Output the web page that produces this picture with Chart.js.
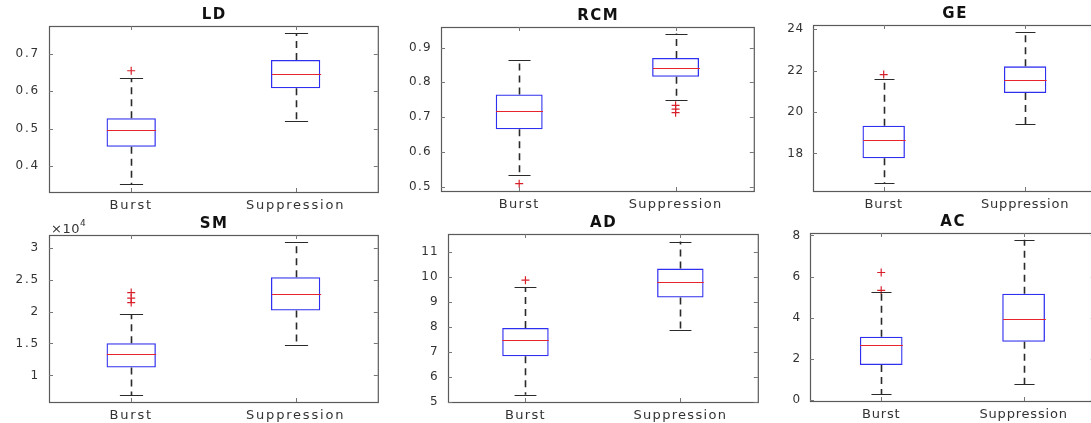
<!DOCTYPE html>
<html>
<head>
<meta charset="utf-8">
<script src="https://cdn.jsdelivr.net/npm/chart.js@4"></script>
<style>
html,body{margin:0;padding:0;background:#fff;width:1091px;height:423px;overflow:hidden;position:relative}
canvas{position:absolute}
</style>
</head>
<body>
<script>
// ---------- DATA ----------
const categories = ['Burst', 'Suppression'];
const panelTitles = ['LD', 'RCM', 'GE', 'SM', 'AD', 'AC'];
// each box: [lower whisker, Q1, median, Q3, upper whisker]
const ldBurst = [0.351, 0.451, 0.497, 0.528, 0.635];
const ldSupp = [0.521, 0.608, 0.646, 0.684, 0.755];
const ldOutBurst = [0.655];
const ldOutSupp = [];
const ldTicks = [0.4, 0.5, 0.6, 0.7];

const rcmBurst = [0.533, 0.665, 0.717, 0.765, 0.864];
const rcmSupp = [0.749, 0.816, 0.841, 0.870, 0.940];
const rcmOutBurst = [0.509];
const rcmOutSupp = [0.734, 0.723, 0.713];
const rcmTicks = [0.5, 0.6, 0.7, 0.8, 0.9];

const geBurst = [16.55, 17.76, 18.63, 19.34, 21.58];
const geSupp = [19.42, 20.92, 21.55, 22.21, 23.85];
const geOutBurst = [21.81];
const geOutSupp = [];
const geTicks = [18, 20, 22, 24];

const smBurst = [6940, 11250, 13400, 15050, 19590];
const smSupp = [14840, 20160, 22720, 25370, 30840];
const smOutBurst = [22970, 22090, 21400];
const smOutSupp = [];
const smTicks = [10000, 15000, 20000, 25000, 30000];

const adBurst = [5.29, 6.82, 7.49, 7.95, 9.58];
const adSupp = [7.88, 9.17, 9.77, 10.32, 11.40];
const adOutBurst = [9.86];
const adOutSupp = [];
const adTicks = [5, 6, 7, 8, 9, 10, 11];

const acBurst = [0.28, 1.70, 2.65, 3.08, 5.23];
const acSupp = [0.76, 2.83, 3.96, 5.17, 7.79];
const acOutBurst = [6.20, 5.33];
const acOutSupp = [];
const acTicks = [0, 2, 4, 6, 8];

// ---------- LAYOUT ----------
const panels = [
  {title: panelTitles[0], b: ldBurst, s: ldSupp, ob: ldOutBurst, os: ldOutSupp, ticks: ldTicks, min: 0.33, max: 0.775, rect: [49, 26, 381, 192], ls: 1.8},
  {title: panelTitles[1], b: rcmBurst, s: rcmSupp, ob: rcmOutBurst, os: rcmOutSupp, ticks: rcmTicks, min: 0.488, max: 0.959, rect: [441, 27, 757, 191], ls: 1.3},
  {title: panelTitles[2], b: geBurst, s: geSupp, ob: geOutBurst, os: geOutSupp, ticks: geTicks, min: 16.18, max: 24.21, rect: [813, 25, 1099, 191], ls: 0.8},
  {title: panelTitles[3], b: smBurst, s: smSupp, ob: smOutBurst, os: smOutSupp, ticks: smTicks, min: 5840, max: 31980, rect: [49, 235, 381, 402], ls: 1.8, scale: 1e4},
  {title: panelTitles[4], b: adBurst, s: adSupp, ob: adOutBurst, os: adOutSupp, ticks: adTicks, min: 5, max: 11.7, rect: [448, 234, 761, 402], ls: 1.3},
  {title: panelTitles[5], b: acBurst, s: acSupp, ob: acOutBurst, os: acOutSupp, ticks: acTicks, min: -0.05, max: 8.12, rect: [810, 233, 1098, 401], ls: 0.8}
];

const YW = 45, XH = 28, PT = 24, PR = 2;
const FONT = "'DejaVu Sans', 'Liberation Sans', Arial, sans-serif";

const boxPlugin = {
  id: 'boxDecor',
  beforeDraw(chart, args, opts) {
    chart.ctx.letterSpacing = opts.ls + 'px';
  },
  afterDatasetsDraw(chart, args, opts) {
    const {ctx, scales: {x, y}} = chart;
    const unit = x.getPixelForValue(1) - x.getPixelForValue(0);
    const halfBox = unit * 0.15;
    const halfCap = halfBox * 0.47;
    ctx.save();
    ctx.letterSpacing = '0px';
    opts.stats.forEach((st, i) => {
      const cx = Math.round(x.getPixelForValue(i)) + 0.5;
      const pLo = y.getPixelForValue(st[0]);
      const pQ1 = y.getPixelForValue(st[1]);
      const pMed = y.getPixelForValue(st[2]);
      const pQ3 = y.getPixelForValue(st[3]);
      const pHi = y.getPixelForValue(st[4]);
      ctx.strokeStyle = '#2a2a2a';
      ctx.lineWidth = 1.6;
      ctx.setLineDash([7, 5]);
      ctx.beginPath();
      ctx.moveTo(cx, pQ3); ctx.lineTo(cx, pHi);
      ctx.moveTo(cx, pQ1); ctx.lineTo(cx, pLo);
      ctx.stroke();
      ctx.setLineDash([]);
      ctx.lineWidth = 1.2;
      ctx.beginPath();
      ctx.moveTo(cx - halfCap, Math.round(pHi) + 0.5); ctx.lineTo(cx + halfCap, Math.round(pHi) + 0.5);
      ctx.moveTo(cx - halfCap, Math.round(pLo) + 0.5); ctx.lineTo(cx + halfCap, Math.round(pLo) + 0.5);
      ctx.stroke();
      ctx.strokeStyle = '#e8242c';
      ctx.lineWidth = 1.2;
      ctx.beginPath();
      ctx.moveTo(cx - halfBox, Math.round(pMed) + 0.5); ctx.lineTo(cx + halfBox, Math.round(pMed) + 0.5);
      ctx.stroke();
    });
    ctx.restore();
  },
  afterDraw(chart, args, opts) {
    const {ctx, chartArea: a, scales: {x, y}} = chart;
    ctx.save();
    ctx.strokeStyle = '#5a5a5a';
    ctx.lineWidth = 1.2;
    ctx.strokeRect(a.left + 0.5, a.top + 0.5, a.right - a.left, a.bottom - a.top);
    ctx.lineWidth = 1;
    ctx.strokeStyle = '#777';
    ctx.beginPath();
    y.ticks.forEach(t => {
      const py = Math.round(y.getPixelForValue(t.value)) + 0.5;
      ctx.moveTo(a.left, py); ctx.lineTo(a.left + 4, py);
      ctx.moveTo(a.right, py); ctx.lineTo(a.right - 4, py);
    });
    x.ticks.forEach((t, i) => {
      const px = Math.round(x.getPixelForValue(i)) + 0.5;
      ctx.moveTo(px, a.bottom); ctx.lineTo(px, a.bottom - 4);
      ctx.moveTo(px, a.top); ctx.lineTo(px, a.top + 4);
    });
    ctx.stroke();
    ctx.letterSpacing = '1.5px';
    ctx.fillStyle = '#111';
    ctx.font = 'bold 15px ' + FONT;
    ctx.textAlign = 'center';
    ctx.textBaseline = 'middle';
    ctx.fillText(opts.title, (a.left + a.right) / 2 + 0.75, a.top - 11);
    if (opts.scale) {
      ctx.letterSpacing = '0.5px';
      ctx.textAlign = 'left';
      ctx.textBaseline = 'alphabetic';
      ctx.fillStyle = '#333';
      ctx.font = '13px ' + FONT;
      const base = '\u00d710';
      ctx.fillText(base, a.left + 2, a.top - 2);
      const w = ctx.measureText(base).width;
      ctx.font = '9px ' + FONT;
      ctx.fillText(String(Math.round(Math.log10(opts.scale))), a.left + 2 + w, a.top - 9);
    }
    ctx.restore();
  }
};

panels.forEach(p => {
  const [L, T, R, B] = p.rect;
  const cv = document.createElement('canvas');
  const w = R - L + YW + PR;
  const h = B - T + PT + XH;
  cv.width = w; cv.height = h;
  cv.style.left = (L - YW) + 'px';
  cv.style.top = (T - PT) + 'px';
  cv.style.width = w + 'px';
  cv.style.height = h + 'px';
  document.body.appendChild(cv);

  const outliers = p.ob.map(v => ({x: categories[0], y: v}))
    .concat(p.os.map(v => ({x: categories[1], y: v})));

  new Chart(cv, {
    type: 'bar',
    data: {
      labels: categories,
      datasets: [
        {
          type: 'bar',
          data: [[p.b[1], p.b[3]], [p.s[1], p.s[3]]],
          backgroundColor: 'rgba(0,0,0,0)',
          borderColor: '#2f2ff0',
          borderWidth: 1.3,
          borderSkipped: false,
          barPercentage: 0.3,
          categoryPercentage: 1.0
        },
        {
          type: 'scatter',
          data: outliers,
          pointStyle: 'cross',
          radius: 4,
          borderColor: '#d8202a',
          borderWidth: 1.2,
          backgroundColor: '#d8202a'
        }
      ]
    },
    options: {
      responsive: false,
      animation: false,
      layout: {padding: {top: PT, right: PR, left: 0, bottom: 0}},
      plugins: {
        legend: {display: false},
        tooltip: {enabled: false},
        title: {display: false},
        boxDecor: {stats: [p.b, p.s], title: p.title, ls: p.ls, scale: p.scale}
      },
      scales: {
        x: {
          type: 'category',
          offset: true,
          grid: {display: false, drawTicks: false},
          border: {display: false},
          ticks: {color: '#333', font: {family: FONT, size: 13}, padding: 6, maxRotation: 0, autoSkip: false},
          afterFit: s => { s.height = XH; }
        },
        y: {
          type: 'linear',
          min: p.min,
          max: p.max,
          grid: {display: false, drawTicks: false},
          border: {display: false},
          afterBuildTicks: s => { s.ticks = p.ticks.map(v => ({value: v})); },
          ticks: {
            color: '#333',
            font: {family: FONT, size: 12},
            padding: 9,
            callback: v => String(p.scale ? v / p.scale : v)
          },
          afterFit: s => { s.width = YW; }
        }
      }
    },
    plugins: [boxPlugin]
  });
});
</script>
</body>
</html>
